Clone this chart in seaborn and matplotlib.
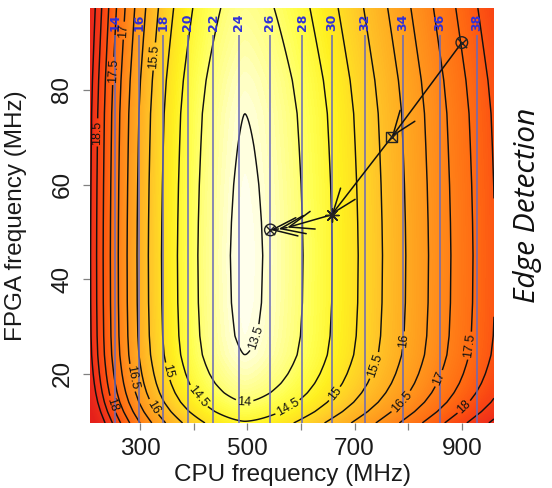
import numpy as np
import pandas as pd
import matplotlib
matplotlib.use("Agg")
import matplotlib.pyplot as plt
import matplotlib.colors as mcolors
import seaborn as sns

# ---------------------------------------------------------------- data
# Lowest energy found along each FPGA-frequency row of the design space
FPGA_ROWS_MHZ = [9.6, 12, 14, 16, 18, 20, 22, 24, 28, 35, 45, 52, 60, 68, 75, 82, 90, 97.3]
ROW_MIN_ENERGY = [14.55, 14.22, 14.0, 13.84, 13.72, 13.63, 13.56, 13.5, 13.45, 13.42,
                  13.41, 13.42, 13.44, 13.47, 13.5, 13.57, 13.69, 13.8]
# CPU frequency of the valley floor and the rise on either side of it
CPU_OPTIMUM_MHZ = 495.0
BELOW_OPT_GAIN, BELOW_OPT_POWER = 6.9, 1.5
ABOVE_OPT_GAIN, ABOVE_OPT_POWER = 9.2, 1.7

CPU_RANGE = [206.5, 960.0]
FPGA_RANGE = [9.6, 97.3]

ENERGY_LEVELS = [13.5, 14, 14.5, 15, 15.5, 16, 16.5, 17, 17.5, 18, 18.5, 19]

# Iso-lines of the second metric, which depends on the CPU clock only
BLUE_LEVELS = [14, 16, 18, 20, 22, 24, 26, 28, 30, 32, 34, 36, 38]
BLUE_CPU_MHZ = [253, 298, 343, 389, 436, 484, 542, 602, 658, 719, 790, 859, 928]

# Steps taken by the frequency search
PATH_CPU_MHZ = [900, 769, 657, 574, 558, 543]
PATH_FPGA_MHZ = [90, 70, 53.6, 50.9, 50.6, 50.4]

X_TICKS = [300, 400, 500, 600, 700, 800, 900]
X_TICK_LABELS = ["300", "", "500", "", "700", "", "900"]
Y_TICKS = [20, 40, 60, 80]

# where the energy contour labels sit (cpu, fpga)
LABEL_SPOTS = {
    13.5: [(508, 28)],
    14: [(495, 14.5)],
    14.5: [(406, 15), (575, 13)],
    15: [(346, 20.4), (659, 16.2)],
    15.5: [(332, 87), (731, 22)],
    16: [(315, 12.3), (796, 27)],
    16.5: [(278, 19), (783, 14.5)],
    17: [(272, 92.5), (858, 19)],
    17.5: [(250, 84), (910, 26)],
    18: [(235, 13), (904, 13)],
    18.5: [(226, 71)],
}

# fill palette: energy value -> colour (pale yellow through orange to red)
FILL_STOPS = [13.4, 13.75, 14.2, 14.7, 15.4, 16.1, 16.8, 17.6, 18.3, 19.0, 19.8]
FILL_COLOURS = ["#FFFFF2", "#FFFF98", "#FFFF50", "#FFF020", "#FFC828", "#FFA820",
                "#FF8A1A", "#FF6A12", "#FA4812", "#EE2E1A", "#E5201A"]

# ---------------------------------------------------------------- surface
cpu = np.linspace(CPU_RANGE[0], CPU_RANGE[1], 400)
fpga = np.linspace(FPGA_RANGE[0], FPGA_RANGE[1], 400)
C, F = np.meshgrid(cpu, fpga)
floor = np.interp(F, FPGA_ROWS_MHZ, ROW_MIN_ENERGY)
dist = np.abs(np.log(C / CPU_OPTIMUM_MHZ))
rise = np.where(C < CPU_OPTIMUM_MHZ,
                BELOW_OPT_GAIN * dist ** BELOW_OPT_POWER,
                ABOVE_OPT_GAIN * dist ** ABOVE_OPT_POWER)
energy = floor + rise

vmin, vmax = FILL_STOPS[0], FILL_STOPS[-1]
fill_cmap = mcolors.LinearSegmentedColormap.from_list(
    "energy_fill", [((v - vmin) / (vmax - vmin), c) for v, c in zip(FILL_STOPS, FILL_COLOURS)])

# ---------------------------------------------------------------- figure
sns.set_style("white")
plt.rcParams["font.family"] = ["Liberation Sans", "DejaVu Sans"]

fig = plt.figure(figsize=(5.52, 4.88), dpi=100)
ax = fig.add_axes([90 / 552, 65 / 488, 404 / 552, 415 / 488])

ax.contourf(C, F, energy, levels=np.arange(13.3, 21.0, 0.05), cmap=fill_cmap,
            vmin=vmin, vmax=vmax, extend="both")

for lev in ENERGY_LEVELS:
    cs = ax.contour(C, F, energy, levels=[lev], colors="#111111", linewidths=1.05)
    spots = LABEL_SPOTS.get(lev)
    if spots:
        cs.clabel(manual=spots, inline=True, inline_spacing=2,
                  fmt=lambda v: f"{v:g}", fontsize=9, colors="#111111")

# CPU-only metric: vertical iso-lines with labels at the top
blue_df = pd.DataFrame({"level": BLUE_LEVELS, "cpu": BLUE_CPU_MHZ})
ax.vlines(blue_df["cpu"], FPGA_RANGE[0], 91.6, colors="#6a6ab8", linewidth=1.4, alpha=0.8)
for _, row in blue_df.iterrows():
    ax.text(row["cpu"], 94.2, f"{row['level']:g}", rotation=90, ha="center", va="center",
            color="#2f2fd8", fontsize=9, fontweight="bold", family="DejaVu Sans")

# search path with arrows
for k in range(len(PATH_CPU_MHZ) - 1):
    ax.annotate("", xy=(PATH_CPU_MHZ[k + 1], PATH_FPGA_MHZ[k + 1]),
                xytext=(PATH_CPU_MHZ[k], PATH_FPGA_MHZ[k]),
                arrowprops=dict(arrowstyle="->,head_length=0.8,head_width=0.3",
                                color="#111111", lw=1.1, shrinkA=0, shrinkB=0,
                                mutation_scale=22))

path_df = pd.DataFrame({"cpu": PATH_CPU_MHZ, "fpga": PATH_FPGA_MHZ})
pts = path_df.iloc[[0, 1, 2, 5]].reset_index(drop=True)
sns.scatterplot(data=pts.iloc[[0, 3]], x="cpu", y="fpga", marker="o", s=70,
                facecolor="none", edgecolor="#222222", linewidth=1.0, ax=ax, zorder=5)
sns.scatterplot(data=pts.iloc[[1]], x="cpu", y="fpga", marker="s", s=55,
                facecolor="none", edgecolor="#222222", linewidth=1.0, ax=ax, zorder=5)
sns.scatterplot(data=pts.iloc[[0, 1, 3]], x="cpu", y="fpga", marker="x", s=45,
                color="#222222", linewidth=1.0, ax=ax, zorder=5)
sns.scatterplot(data=pts.iloc[[2]], x="cpu", y="fpga", marker=(8, 2, 0), s=90,
                color="#222222", linewidth=1.0, ax=ax, zorder=5)

# ---------------------------------------------------------------- axes
ax.set_xlim(*CPU_RANGE)
ax.set_ylim(*FPGA_RANGE)
ax.set_xticks(X_TICKS)
ax.set_xticklabels(X_TICK_LABELS)
ax.set_yticks(Y_TICKS)
ax.set_yticklabels([str(v) for v in Y_TICKS], rotation=90, va="center")
for s in ax.spines.values():
    s.set_visible(False)
ax.tick_params(axis="both", direction="out", length=5, width=0.9, color="#808080",
               labelsize=17.5, labelcolor="#1a1a1a", bottom=True, left=True)
ax.tick_params(axis="x", pad=6)
ax.tick_params(axis="y", pad=7)

ax.set_xlabel("CPU frequency (MHz)", fontsize=17.5, color="#1a1a1a")
ax.set_ylabel("FPGA frequency (MHz)", fontsize=17.5, color="#1a1a1a")
ax.xaxis.set_label_coords(0.5, -0.1)
ax.yaxis.set_label_coords(-0.157, 0.5)

fig.text(528 / 552, 1 - 205 / 488, "Edge Detection", rotation=90, ha="center", va="center",
         fontsize=21.5, style="italic", family=["Open Sans", "DejaVu Sans"], color="#111111")

fig.savefig("out.png", dpi=100)
